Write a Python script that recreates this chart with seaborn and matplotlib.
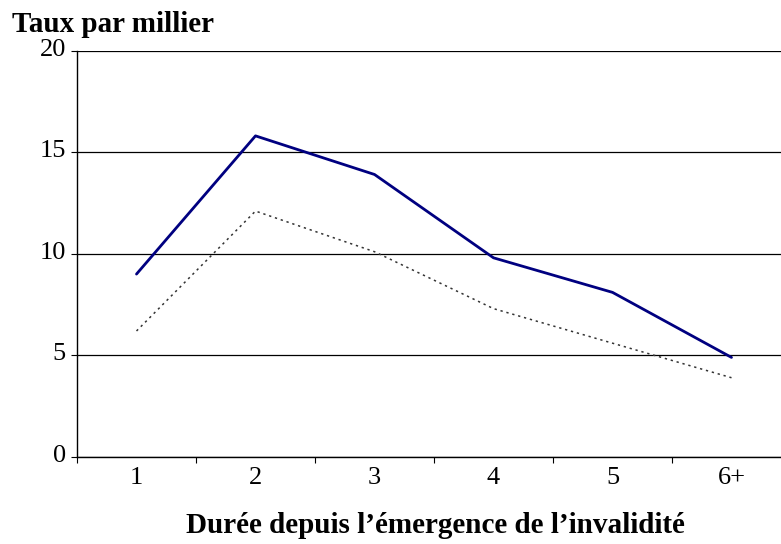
import pandas as pd
import matplotlib.pyplot as plt
import seaborn as sns
from matplotlib.ticker import FixedLocator
from matplotlib.transforms import ScaledTranslation

# données
durees = ['1', '2', '3', '4', '5', '6+']
serie_pleine = [9.0, 15.8, 13.9, 9.8, 8.1, 4.9]
serie_pointillee = [6.2, 12.1, 10.1, 7.3, 5.6, 3.9]

df = pd.DataFrame({'duree': durees, 'a': serie_pleine, 'b': serie_pointillee})

sns.set_theme(style='white')
plt.rcParams['font.family'] = ['Liberation Serif', 'DejaVu Serif']
plt.rcParams['text.color'] = 'black'

fig = plt.figure(figsize=(7.81, 5.44), dpi=100)
ax = fig.add_axes([77 / 781, 87 / 544, 714 / 781, 406.5 / 544])

sns.lineplot(data=df, x='duree', y='a', ax=ax, color='#000080', linewidth=2)
sns.lineplot(data=df, x='duree', y='b', ax=ax, color='#333333', linewidth=1.1,
             linestyle=(0, (1.5, 2.5)))

ax.set_xlim(-0.5, len(durees) - 0.5)
ax.set_ylim(0, 20)
ax.set_yticks([0, 5, 10, 15, 20])
ax.yaxis.grid(True, color='black', linewidth=0.9)
ax.xaxis.grid(False)
ax.set_xlabel('')
ax.set_ylabel('')

for s in ['top', 'right']:
    ax.spines[s].set_visible(False)
for s in ['left', 'bottom']:
    ax.spines[s].set_color('black')
    ax.spines[s].set_linewidth(1)

ax.xaxis.set_minor_locator(FixedLocator([i - 0.5 for i in range(len(durees) + 1)]))
ax.tick_params(axis='x', which='major', length=0, labelsize=19, pad=7, colors='black')
ax.tick_params(axis='x', which='minor', length=4, width=0.8, direction='out', color='black', bottom=True)
ax.tick_params(axis='y', which='major', length=4, width=0.8, direction='out', labelsize=19,
               pad=4, color='black', left=True, labelcolor='black')

# les chiffres de l'axe y sont un peu au-dessus des lignes
decal = ScaledTranslation(0, 2.5 / 72, fig.dpi_scale_trans)
for lab in ax.get_yticklabels():
    lab.set_transform(lab.get_transform() + decal)

fig.text(12 / 781, 1 - 32 / 544, 'Taux par millier', fontsize=21, fontweight='bold',
         ha='left', va='baseline')
fig.text(435 / 781, 1 - 533 / 544, 'Durée depuis l’émergence de l’invalidité',
         fontsize=21, fontweight='bold', ha='center', va='baseline')

fig.savefig('out.png', dpi=100)
